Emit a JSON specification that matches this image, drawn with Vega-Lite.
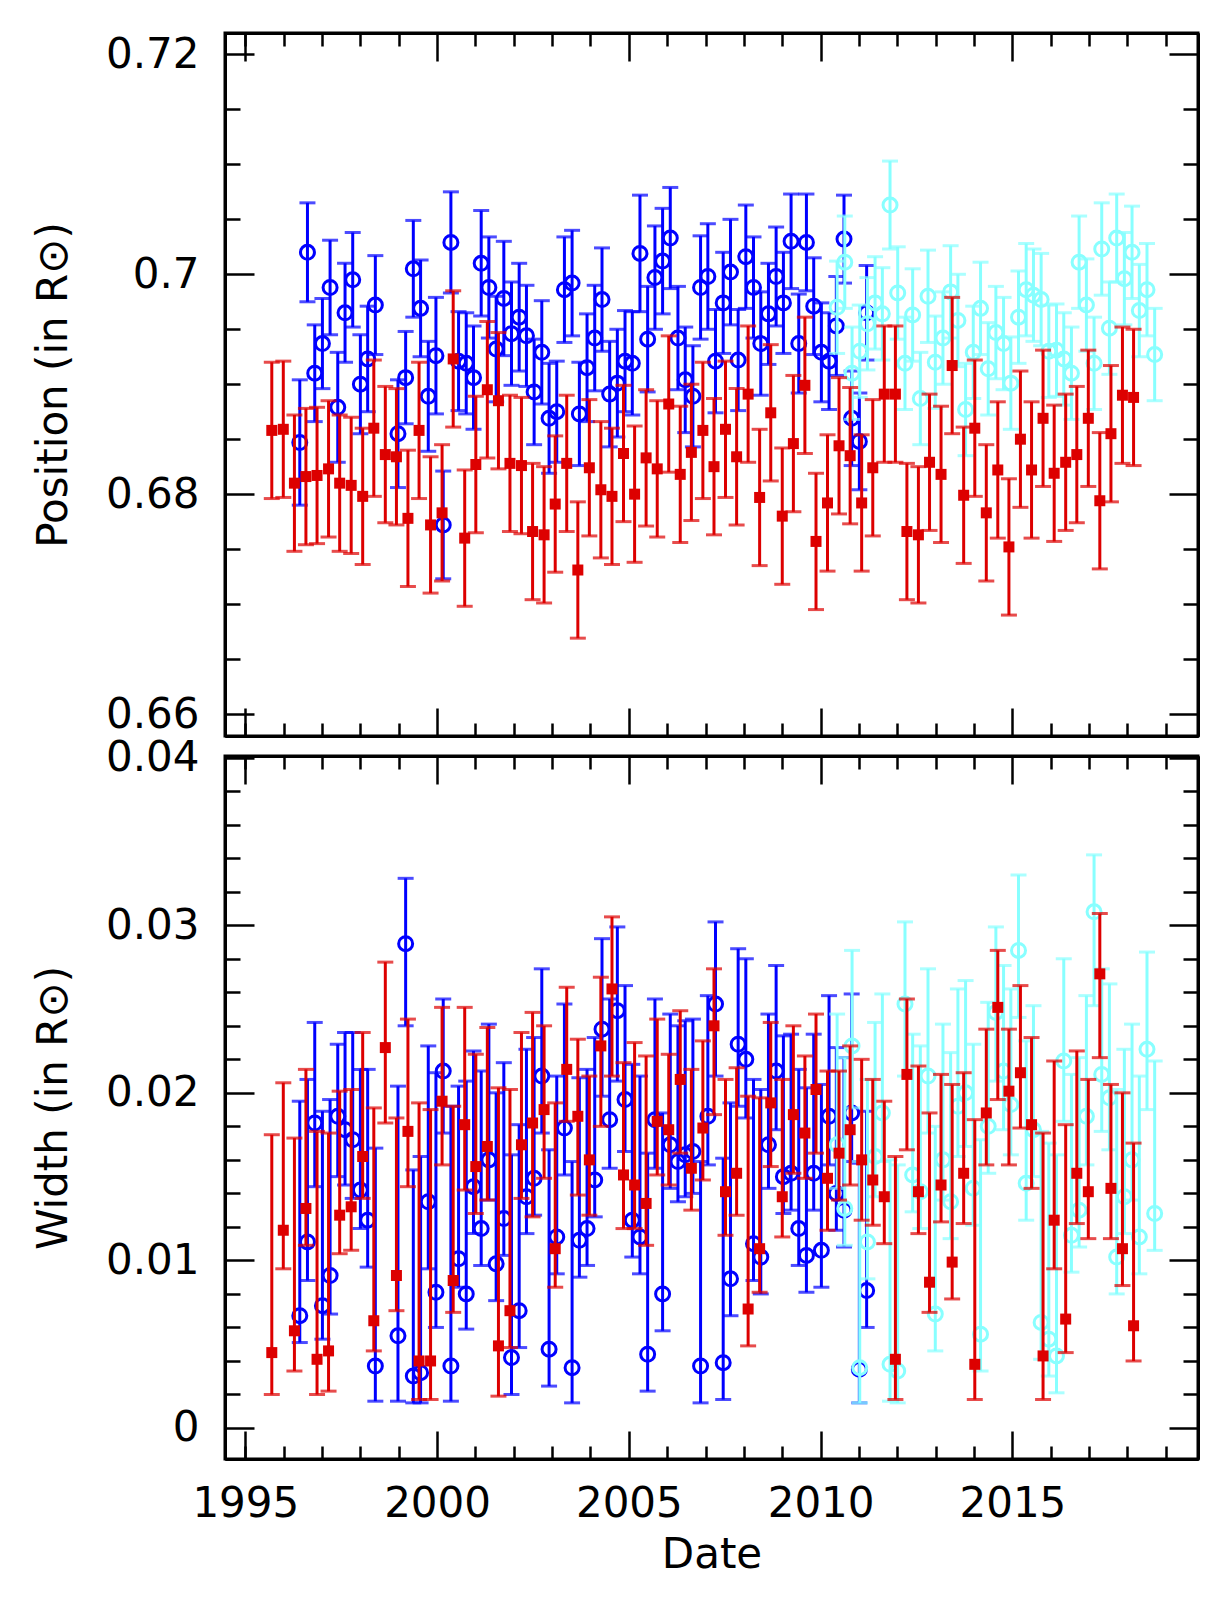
{
  "$schema": "https://vega.github.io/schema/vega-lite/v6.json",
  "padding": {"left": 30, "top": 30, "right": 26, "bottom": 10},
  "config": {
    "font": "DejaVu Sans",
    "view": {"stroke": "black", "strokeWidth": 3},
    "axis": {
      "labelFont": "DejaVu Sans", "titleFont": "DejaVu Sans",
      "labelFontSize": 42, "titleFontSize": 42, "titleFontWeight": "normal",
      "labelColor": "black", "titleColor": "black",
      "domainColor": "black", "domainWidth": 3,
      "tickColor": "black", "tickWidth": 2.5,
      "grid": false, "labelFlush": false, "labelOverlap": false
    }
  },
  "datasets": {
    "pos": [
      {"s":"MDI","d":1996.42,"v":0.6847,"e":0.0057},{"s":"MDI","d":1996.62,"v":0.7020,"e":0.0045},{"s":"MDI","d":1996.81,"v":0.6910,"e":0.0044},{"s":"MDI","d":1997.01,"v":0.6937,"e":0.0041},{"s":"MDI","d":1997.21,"v":0.6988,"e":0.0043},{"s":"MDI","d":1997.41,"v":0.6879,"e":0.0050},{"s":"MDI","d":1997.60,"v":0.6965,"e":0.0045},{"s":"MDI","d":1997.80,"v":0.6995,"e":0.0043},{"s":"MDI","d":1998.00,"v":0.6900,"e":0.0045},{"s":"MDI","d":1998.19,"v":0.6923,"e":0.0048},{"s":"MDI","d":1998.39,"v":0.6972,"e":0.0045},
      {"s":"MDI","d":1998.98,"v":0.6855,"e":0.0049},{"s":"MDI","d":1999.18,"v":0.6906,"e":0.0042},{"s":"MDI","d":1999.38,"v":0.7005,"e":0.0044},{"s":"MDI","d":1999.57,"v":0.6969,"e":0.0044},{"s":"MDI","d":1999.77,"v":0.6889,"e":0.0050},{"s":"MDI","d":1999.97,"v":0.6926,"e":0.0053},{"s":"MDI","d":2000.16,"v":0.6772,"e":0.0049},{"s":"MDI","d":2000.36,"v":0.7029,"e":0.0046},{"s":"MDI","d":2000.56,"v":0.6921,"e":0.0045},{"s":"MDI","d":2000.76,"v":0.6919,"e":0.0046},{"s":"MDI","d":2000.95,"v":0.6906,"e":0.0047},{"s":"MDI","d":2001.15,"v":0.7010,"e":0.0048},{"s":"MDI","d":2001.35,"v":0.6988,"e":0.0046},{"s":"MDI","d":2001.54,"v":0.6932,"e":0.0048},{"s":"MDI","d":2001.74,"v":0.6978,"e":0.0052},{"s":"MDI","d":2001.94,"v":0.6946,"e":0.0047},{"s":"MDI","d":2002.14,"v":0.6961,"e":0.0049},{"s":"MDI","d":2002.33,"v":0.6944,"e":0.0046},{"s":"MDI","d":2002.53,"v":0.6893,"e":0.0048},{"s":"MDI","d":2002.73,"v":0.6929,"e":0.0047},{"s":"MDI","d":2002.92,"v":0.6869,"e":0.0050},{"s":"MDI","d":2003.12,"v":0.6875,"e":0.0046},{"s":"MDI","d":2003.32,"v":0.6986,"e":0.0048},{"s":"MDI","d":2003.52,"v":0.6992,"e":0.0048},{"s":"MDI","d":2003.71,"v":0.6873,"e":0.0047},{"s":"MDI","d":2003.91,"v":0.6915,"e":0.0049},{"s":"MDI","d":2004.11,"v":0.6942,"e":0.0048},{"s":"MDI","d":2004.30,"v":0.6977,"e":0.0047},{"s":"MDI","d":2004.50,"v":0.6891,"e":0.0048},{"s":"MDI","d":2004.70,"v":0.6901,"e":0.0049},{"s":"MDI","d":2004.90,"v":0.6921,"e":0.0046},{"s":"MDI","d":2005.09,"v":0.6919,"e":0.0047},{"s":"MDI","d":2005.29,"v":0.7019,"e":0.0053},{"s":"MDI","d":2005.49,"v":0.6941,"e":0.0048},{"s":"MDI","d":2005.68,"v":0.6997,"e":0.0047},{"s":"MDI","d":2005.88,"v":0.7012,"e":0.0048},{"s":"MDI","d":2006.08,"v":0.7033,"e":0.0046},{"s":"MDI","d":2006.28,"v":0.6942,"e":0.0047},{"s":"MDI","d":2006.47,"v":0.6904,"e":0.0048},{"s":"MDI","d":2006.67,"v":0.6889,"e":0.0046},{"s":"MDI","d":2006.87,"v":0.6988,"e":0.0047},{"s":"MDI","d":2007.06,"v":0.6998,"e":0.0048},{"s":"MDI","d":2007.26,"v":0.6921,"e":0.0047},{"s":"MDI","d":2007.46,"v":0.6974,"e":0.0046},{"s":"MDI","d":2007.65,"v":0.7002,"e":0.0048},{"s":"MDI","d":2007.85,"v":0.6922,"e":0.0046},{"s":"MDI","d":2008.05,"v":0.7016,"e":0.0047},{"s":"MDI","d":2008.25,"v":0.6988,"e":0.0046},{"s":"MDI","d":2008.44,"v":0.6937,"e":0.0047},{"s":"MDI","d":2008.64,"v":0.6964,"e":0.0046},{"s":"MDI","d":2008.84,"v":0.6998,"e":0.0045},{"s":"MDI","d":2009.03,"v":0.6974,"e":0.0046},{"s":"MDI","d":2009.23,"v":0.7030,"e":0.0043},{"s":"MDI","d":2009.43,"v":0.6937,"e":0.0045},{"s":"MDI","d":2009.63,"v":0.7029,"e":0.0044},{"s":"MDI","d":2009.82,"v":0.6971,"e":0.0044},{"s":"MDI","d":2010.02,"v":0.6929,"e":0.0045},{"s":"MDI","d":2010.22,"v":0.6921,"e":0.0044},{"s":"MDI","d":2010.41,"v":0.6953,"e":0.0045},{"s":"MDI","d":2010.61,"v":0.7032,"e":0.0040},{"s":"MDI","d":2010.81,"v":0.6869,"e":0.0043},{"s":"MDI","d":2011.01,"v":0.6848,"e":0.0044},{"s":"MDI","d":2011.20,"v":0.6965,"e":0.0043},
      {"s":"HMI","d":2010.43,"v":0.6970,"e":0.0042},{"s":"HMI","d":2010.63,"v":0.7011,"e":0.0042},{"s":"HMI","d":2010.82,"v":0.6910,"e":0.0042},{"s":"HMI","d":2011.02,"v":0.6930,"e":0.0042},{"s":"HMI","d":2011.22,"v":0.6955,"e":0.0042},{"s":"HMI","d":2011.42,"v":0.6974,"e":0.0042},{"s":"HMI","d":2011.61,"v":0.6964,"e":0.0042},{"s":"HMI","d":2011.81,"v":0.7063,"e":0.0040},{"s":"HMI","d":2012.01,"v":0.6983,"e":0.0042},{"s":"HMI","d":2012.20,"v":0.6919,"e":0.0042},{"s":"HMI","d":2012.40,"v":0.6963,"e":0.0042},{"s":"HMI","d":2012.60,"v":0.6887,"e":0.0042},{"s":"HMI","d":2012.80,"v":0.6980,"e":0.0042},{"s":"HMI","d":2012.99,"v":0.6920,"e":0.0042},{"s":"HMI","d":2013.19,"v":0.6942,"e":0.0042},{"s":"HMI","d":2013.39,"v":0.6984,"e":0.0042},{"s":"HMI","d":2013.58,"v":0.6958,"e":0.0042},{"s":"HMI","d":2013.78,"v":0.6877,"e":0.0042},{"s":"HMI","d":2013.98,"v":0.6929,"e":0.0042},{"s":"HMI","d":2014.17,"v":0.6969,"e":0.0042},{"s":"HMI","d":2014.37,"v":0.6914,"e":0.0042},{"s":"HMI","d":2014.57,"v":0.6947,"e":0.0042},{"s":"HMI","d":2014.77,"v":0.6937,"e":0.0042},{"s":"HMI","d":2014.96,"v":0.6901,"e":0.0042},{"s":"HMI","d":2015.16,"v":0.6961,"e":0.0042},{"s":"HMI","d":2015.36,"v":0.6986,"e":0.0042},{"s":"HMI","d":2015.55,"v":0.6981,"e":0.0042},{"s":"HMI","d":2015.75,"v":0.6977,"e":0.0042},{"s":"HMI","d":2015.95,"v":0.6930,"e":0.0042},{"s":"HMI","d":2016.15,"v":0.6931,"e":0.0042},{"s":"HMI","d":2016.34,"v":0.6923,"e":0.0042},{"s":"HMI","d":2016.54,"v":0.6910,"e":0.0042},{"s":"HMI","d":2016.74,"v":0.7011,"e":0.0042},{"s":"HMI","d":2016.93,"v":0.6972,"e":0.0042},{"s":"HMI","d":2017.13,"v":0.6919,"e":0.0042},{"s":"HMI","d":2017.33,"v":0.7023,"e":0.0042},{"s":"HMI","d":2017.53,"v":0.6951,"e":0.0042},{"s":"HMI","d":2017.72,"v":0.7033,"e":0.0040},{"s":"HMI","d":2017.92,"v":0.6996,"e":0.0042},{"s":"HMI","d":2018.12,"v":0.7020,"e":0.0042},{"s":"HMI","d":2018.31,"v":0.6967,"e":0.0042},{"s":"HMI","d":2018.51,"v":0.6986,"e":0.0042},{"s":"HMI","d":2018.71,"v":0.6927,"e":0.0042},
      {"s":"GONG","d":1995.69,"v":0.6858,"e":0.0062},{"s":"GONG","d":1995.99,"v":0.6859,"e":0.0062},{"s":"GONG","d":1996.28,"v":0.6810,"e":0.0062},{"s":"GONG","d":1996.58,"v":0.6816,"e":0.0062},{"s":"GONG","d":1996.87,"v":0.6817,"e":0.0062},{"s":"GONG","d":1997.17,"v":0.6823,"e":0.0062},{"s":"GONG","d":1997.46,"v":0.6810,"e":0.0062},{"s":"GONG","d":1997.76,"v":0.6808,"e":0.0062},{"s":"GONG","d":1998.06,"v":0.6798,"e":0.0062},{"s":"GONG","d":1998.35,"v":0.6860,"e":0.0062},{"s":"GONG","d":1998.65,"v":0.6836,"e":0.0062},{"s":"GONG","d":1998.94,"v":0.6834,"e":0.0062},{"s":"GONG","d":1999.24,"v":0.6778,"e":0.0062},{"s":"GONG","d":1999.53,"v":0.6858,"e":0.0062},{"s":"GONG","d":1999.83,"v":0.6772,"e":0.0062},{"s":"GONG","d":2000.13,"v":0.6783,"e":0.0062},{"s":"GONG","d":2000.42,"v":0.6923,"e":0.0062},{"s":"GONG","d":2000.72,"v":0.6760,"e":0.0062},{"s":"GONG","d":2001.01,"v":0.6827,"e":0.0062},{"s":"GONG","d":2001.31,"v":0.6895,"e":0.0062},{"s":"GONG","d":2001.60,"v":0.6885,"e":0.0062},{"s":"GONG","d":2001.90,"v":0.6828,"e":0.0062},{"s":"GONG","d":2002.20,"v":0.6826,"e":0.0062},{"s":"GONG","d":2002.49,"v":0.6766,"e":0.0062},{"s":"GONG","d":2002.79,"v":0.6763,"e":0.0062},{"s":"GONG","d":2003.08,"v":0.6791,"e":0.0062},{"s":"GONG","d":2003.38,"v":0.6828,"e":0.0062},{"s":"GONG","d":2003.67,"v":0.6731,"e":0.0062},{"s":"GONG","d":2003.97,"v":0.6824,"e":0.0062},{"s":"GONG","d":2004.27,"v":0.6804,"e":0.0062},{"s":"GONG","d":2004.56,"v":0.6798,"e":0.0062},{"s":"GONG","d":2004.86,"v":0.6837,"e":0.0062},{"s":"GONG","d":2005.15,"v":0.6800,"e":0.0062},{"s":"GONG","d":2005.45,"v":0.6833,"e":0.0062},{"s":"GONG","d":2005.74,"v":0.6823,"e":0.0062},{"s":"GONG","d":2006.04,"v":0.6882,"e":0.0062},{"s":"GONG","d":2006.34,"v":0.6818,"e":0.0062},{"s":"GONG","d":2006.63,"v":0.6838,"e":0.0062},{"s":"GONG","d":2006.93,"v":0.6858,"e":0.0062},{"s":"GONG","d":2007.22,"v":0.6825,"e":0.0062},{"s":"GONG","d":2007.52,"v":0.6859,"e":0.0062},{"s":"GONG","d":2007.81,"v":0.6834,"e":0.0062},{"s":"GONG","d":2008.11,"v":0.6891,"e":0.0062},{"s":"GONG","d":2008.41,"v":0.6797,"e":0.0062},{"s":"GONG","d":2008.70,"v":0.6874,"e":0.0062},{"s":"GONG","d":2009.00,"v":0.6780,"e":0.0062},{"s":"GONG","d":2009.29,"v":0.6846,"e":0.0062},{"s":"GONG","d":2009.59,"v":0.6899,"e":0.0062},{"s":"GONG","d":2009.88,"v":0.6757,"e":0.0062},{"s":"GONG","d":2010.18,"v":0.6792,"e":0.0062},{"s":"GONG","d":2010.48,"v":0.6844,"e":0.0062},{"s":"GONG","d":2010.77,"v":0.6835,"e":0.0062},{"s":"GONG","d":2011.07,"v":0.6792,"e":0.0062},{"s":"GONG","d":2011.36,"v":0.6824,"e":0.0062},{"s":"GONG","d":2011.66,"v":0.6891,"e":0.0062},{"s":"GONG","d":2011.95,"v":0.6891,"e":0.0062},{"s":"GONG","d":2012.25,"v":0.6766,"e":0.0062},{"s":"GONG","d":2012.55,"v":0.6763,"e":0.0062},{"s":"GONG","d":2012.84,"v":0.6829,"e":0.0062},{"s":"GONG","d":2013.14,"v":0.6818,"e":0.0062},{"s":"GONG","d":2013.43,"v":0.6917,"e":0.0062},{"s":"GONG","d":2013.73,"v":0.6799,"e":0.0062},{"s":"GONG","d":2014.02,"v":0.6860,"e":0.0062},{"s":"GONG","d":2014.32,"v":0.6783,"e":0.0062},{"s":"GONG","d":2014.62,"v":0.6822,"e":0.0062},{"s":"GONG","d":2014.91,"v":0.6752,"e":0.0062},{"s":"GONG","d":2015.21,"v":0.6850,"e":0.0062},{"s":"GONG","d":2015.50,"v":0.6822,"e":0.0062},{"s":"GONG","d":2015.80,"v":0.6869,"e":0.0062},{"s":"GONG","d":2016.09,"v":0.6819,"e":0.0062},{"s":"GONG","d":2016.39,"v":0.6829,"e":0.0062},{"s":"GONG","d":2016.68,"v":0.6836,"e":0.0062},{"s":"GONG","d":2016.98,"v":0.6869,"e":0.0062},{"s":"GONG","d":2017.28,"v":0.6794,"e":0.0062},{"s":"GONG","d":2017.57,"v":0.6855,"e":0.0062},{"s":"GONG","d":2017.87,"v":0.6890,"e":0.0062},{"s":"GONG","d":2018.16,"v":0.6888,"e":0.0062}
    ],
    "wid": [
      {"s":"MDI","d":1996.42,"v":0.0067,"lo":0.0051,"hi":0.0195},{"s":"MDI","d":1996.62,"v":0.0111,"lo":0.0088,"hi":0.0208},{"s":"MDI","d":1996.81,"v":0.0182,"lo":0.0144,"hi":0.0242},{"s":"MDI","d":1997.01,"v":0.0073,"lo":0.0053,"hi":0.0189},{"s":"MDI","d":1997.21,"v":0.0091,"lo":0.0068,"hi":0.0196},{"s":"MDI","d":1997.41,"v":0.0186,"lo":0.0150,"hi":0.0229},{"s":"MDI","d":1997.60,"v":0.0178,"lo":0.0145,"hi":0.0236},{"s":"MDI","d":1997.80,"v":0.0172,"lo":0.0137,"hi":0.0236},{"s":"MDI","d":1998.00,"v":0.0142,"lo":0.0119,"hi":0.0214},{"s":"MDI","d":1998.19,"v":0.0124,"lo":0.0096,"hi":0.0214},{"s":"MDI","d":1998.39,"v":0.0037,"lo":0.0016,"hi":0.0167},
      {"s":"MDI","d":1998.98,"v":0.0055,"lo":0.0016,"hi":0.0204},{"s":"MDI","d":1999.18,"v":0.0289,"lo":0.0240,"hi":0.0328},{"s":"MDI","d":1999.38,"v":0.0031,"lo":0.0015,"hi":0.0154},{"s":"MDI","d":1999.57,"v":0.0033,"lo":0.0015,"hi":0.0162},{"s":"MDI","d":1999.77,"v":0.0135,"lo":0.0095,"hi":0.0228},{"s":"MDI","d":1999.97,"v":0.0081,"lo":0.0060,"hi":0.0212},{"s":"MDI","d":2000.16,"v":0.0213,"lo":0.0176,"hi":0.0256},{"s":"MDI","d":2000.36,"v":0.0037,"lo":0.0016,"hi":0.0192},{"s":"MDI","d":2000.56,"v":0.0101,"lo":0.0084,"hi":0.0204},{"s":"MDI","d":2000.76,"v":0.0080,"lo":0.0059,"hi":0.0207},{"s":"MDI","d":2000.95,"v":0.0144,"lo":0.0116,"hi":0.0225},{"s":"MDI","d":2001.15,"v":0.0119,"lo":0.0097,"hi":0.0213},{"s":"MDI","d":2001.35,"v":0.0160,"lo":0.0136,"hi":0.0241},{"s":"MDI","d":2001.54,"v":0.0098,"lo":0.0076,"hi":0.0200},{"s":"MDI","d":2001.74,"v":0.0125,"lo":0.0103,"hi":0.0218},{"s":"MDI","d":2001.94,"v":0.0042,"lo":0.0020,"hi":0.0163},{"s":"MDI","d":2002.14,"v":0.0070,"lo":0.0048,"hi":0.0181},{"s":"MDI","d":2002.33,"v":0.0138,"lo":0.0116,"hi":0.0226},{"s":"MDI","d":2002.53,"v":0.0149,"lo":0.0127,"hi":0.0233},{"s":"MDI","d":2002.73,"v":0.0210,"lo":0.0176,"hi":0.0274},{"s":"MDI","d":2002.92,"v":0.0047,"lo":0.0025,"hi":0.0166},{"s":"MDI","d":2003.12,"v":0.0114,"lo":0.0092,"hi":0.0210},{"s":"MDI","d":2003.32,"v":0.0179,"lo":0.0151,"hi":0.0253},{"s":"MDI","d":2003.52,"v":0.0036,"lo":0.0015,"hi":0.0159},{"s":"MDI","d":2003.71,"v":0.0112,"lo":0.0090,"hi":0.0209},{"s":"MDI","d":2003.91,"v":0.0119,"lo":0.0097,"hi":0.0214},{"s":"MDI","d":2004.11,"v":0.0148,"lo":0.0126,"hi":0.0233},{"s":"MDI","d":2004.30,"v":0.0238,"lo":0.0198,"hi":0.0292},{"s":"MDI","d":2004.50,"v":0.0184,"lo":0.0155,"hi":0.0256},{"s":"MDI","d":2004.70,"v":0.0249,"lo":0.0207,"hi":0.0299},{"s":"MDI","d":2004.90,"v":0.0196,"lo":0.0165,"hi":0.0264},{"s":"MDI","d":2005.09,"v":0.0124,"lo":0.0102,"hi":0.0217},{"s":"MDI","d":2005.29,"v":0.0114,"lo":0.0092,"hi":0.0210},{"s":"MDI","d":2005.49,"v":0.0044,"lo":0.0022,"hi":0.0164},{"s":"MDI","d":2005.68,"v":0.0184,"lo":0.0155,"hi":0.0256},{"s":"MDI","d":2005.88,"v":0.0080,"lo":0.0058,"hi":0.0188},{"s":"MDI","d":2006.08,"v":0.0169,"lo":0.0143,"hi":0.0247},{"s":"MDI","d":2006.28,"v":0.0159,"lo":0.0135,"hi":0.0240},{"s":"MDI","d":2006.47,"v":0.0163,"lo":0.0138,"hi":0.0243},{"s":"MDI","d":2006.67,"v":0.0165,"lo":0.0140,"hi":0.0244},{"s":"MDI","d":2006.87,"v":0.0037,"lo":0.0015,"hi":0.0159},{"s":"MDI","d":2007.06,"v":0.0186,"lo":0.0157,"hi":0.0258},{"s":"MDI","d":2007.26,"v":0.0253,"lo":0.0210,"hi":0.0302},{"s":"MDI","d":2007.46,"v":0.0039,"lo":0.0017,"hi":0.0161},{"s":"MDI","d":2007.65,"v":0.0089,"lo":0.0067,"hi":0.0194},{"s":"MDI","d":2007.85,"v":0.0229,"lo":0.0192,"hi":0.0286},{"s":"MDI","d":2008.05,"v":0.0220,"lo":0.0185,"hi":0.0280},{"s":"MDI","d":2008.25,"v":0.0110,"lo":0.0088,"hi":0.0208},{"s":"MDI","d":2008.44,"v":0.0102,"lo":0.0080,"hi":0.0202},{"s":"MDI","d":2008.64,"v":0.0169,"lo":0.0143,"hi":0.0247},{"s":"MDI","d":2008.84,"v":0.0213,"lo":0.0178,"hi":0.0276},{"s":"MDI","d":2009.03,"v":0.0150,"lo":0.0128,"hi":0.0234},{"s":"MDI","d":2009.23,"v":0.0152,"lo":0.0130,"hi":0.0235},{"s":"MDI","d":2009.43,"v":0.0119,"lo":0.0097,"hi":0.0214},{"s":"MDI","d":2009.63,"v":0.0103,"lo":0.0081,"hi":0.0203},{"s":"MDI","d":2009.82,"v":0.0152,"lo":0.0130,"hi":0.0235},{"s":"MDI","d":2010.02,"v":0.0106,"lo":0.0084,"hi":0.0205},{"s":"MDI","d":2010.22,"v":0.0186,"lo":0.0157,"hi":0.0258},{"s":"MDI","d":2010.41,"v":0.0140,"lo":0.0118,"hi":0.0227},{"s":"MDI","d":2010.61,"v":0.0130,"lo":0.0108,"hi":0.0221},{"s":"MDI","d":2010.81,"v":0.0188,"lo":0.0159,"hi":0.0259},{"s":"MDI","d":2011.01,"v":0.0035,"lo":0.0015,"hi":0.0158},{"s":"MDI","d":2011.20,"v":0.0082,"lo":0.0060,"hi":0.0189},
      {"s":"HMI","d":2010.43,"v":0.0169,"lo":0.0143,"hi":0.0247},{"s":"HMI","d":2010.63,"v":0.0131,"lo":0.0109,"hi":0.0221},{"s":"HMI","d":2010.82,"v":0.0228,"lo":0.0191,"hi":0.0285},{"s":"HMI","d":2011.02,"v":0.0036,"lo":0.0015,"hi":0.0159},{"s":"HMI","d":2011.22,"v":0.0111,"lo":0.0089,"hi":0.0208},{"s":"HMI","d":2011.42,"v":0.0162,"lo":0.0138,"hi":0.0242},{"s":"HMI","d":2011.61,"v":0.0188,"lo":0.0159,"hi":0.0259},{"s":"HMI","d":2011.81,"v":0.0038,"lo":0.0016,"hi":0.0160},{"s":"HMI","d":2012.01,"v":0.0034,"lo":0.0015,"hi":0.0157},{"s":"HMI","d":2012.20,"v":0.0253,"lo":0.0210,"hi":0.0302},{"s":"HMI","d":2012.40,"v":0.0151,"lo":0.0129,"hi":0.0235},{"s":"HMI","d":2012.60,"v":0.0141,"lo":0.0119,"hi":0.0228},{"s":"HMI","d":2012.80,"v":0.0210,"lo":0.0176,"hi":0.0274},{"s":"HMI","d":2012.99,"v":0.0068,"lo":0.0046,"hi":0.0180},{"s":"HMI","d":2013.19,"v":0.0160,"lo":0.0136,"hi":0.0241},{"s":"HMI","d":2013.39,"v":0.0135,"lo":0.0113,"hi":0.0224},{"s":"HMI","d":2013.58,"v":0.0192,"lo":0.0162,"hi":0.0262},{"s":"HMI","d":2013.78,"v":0.0200,"lo":0.0168,"hi":0.0267},{"s":"HMI","d":2013.98,"v":0.0143,"lo":0.0121,"hi":0.0229},{"s":"HMI","d":2014.17,"v":0.0056,"lo":0.0034,"hi":0.0172},{"s":"HMI","d":2014.37,"v":0.0180,"lo":0.0152,"hi":0.0254},{"s":"HMI","d":2014.57,"v":0.0248,"lo":0.0207,"hi":0.0299},{"s":"HMI","d":2014.77,"v":0.0213,"lo":0.0178,"hi":0.0276},{"s":"HMI","d":2014.96,"v":0.0193,"lo":0.0163,"hi":0.0262},{"s":"HMI","d":2015.16,"v":0.0285,"lo":0.0245,"hi":0.0330},{"s":"HMI","d":2015.36,"v":0.0146,"lo":0.0124,"hi":0.0231},{"s":"HMI","d":2015.55,"v":0.0178,"lo":0.0150,"hi":0.0252},{"s":"HMI","d":2015.75,"v":0.0063,"lo":0.0041,"hi":0.0177},{"s":"HMI","d":2015.95,"v":0.0053,"lo":0.0031,"hi":0.0170},{"s":"HMI","d":2016.15,"v":0.0043,"lo":0.0021,"hi":0.0163},{"s":"HMI","d":2016.34,"v":0.0219,"lo":0.0183,"hi":0.0280},{"s":"HMI","d":2016.54,"v":0.0115,"lo":0.0093,"hi":0.0211},{"s":"HMI","d":2016.74,"v":0.0130,"lo":0.0108,"hi":0.0221},{"s":"HMI","d":2016.93,"v":0.0186,"lo":0.0157,"hi":0.0258},{"s":"HMI","d":2017.13,"v":0.0308,"lo":0.0252,"hi":0.0342},{"s":"HMI","d":2017.33,"v":0.0211,"lo":0.0177,"hi":0.0274},{"s":"HMI","d":2017.53,"v":0.0197,"lo":0.0166,"hi":0.0265},{"s":"HMI","d":2017.72,"v":0.0102,"lo":0.0080,"hi":0.0202},{"s":"HMI","d":2017.92,"v":0.0138,"lo":0.0116,"hi":0.0226},{"s":"HMI","d":2018.12,"v":0.0160,"lo":0.0136,"hi":0.0241},{"s":"HMI","d":2018.31,"v":0.0114,"lo":0.0092,"hi":0.0210},{"s":"HMI","d":2018.51,"v":0.0226,"lo":0.0190,"hi":0.0284},{"s":"HMI","d":2018.71,"v":0.0128,"lo":0.0106,"hi":0.0219},
      {"s":"GONG","d":1995.69,"v":0.0045,"lo":0.0020,"hi":0.0175},{"s":"GONG","d":1995.99,"v":0.0118,"lo":0.0095,"hi":0.0206},{"s":"GONG","d":1996.28,"v":0.0058,"lo":0.0034,"hi":0.0173},{"s":"GONG","d":1996.58,"v":0.0131,"lo":0.0109,"hi":0.0214},{"s":"GONG","d":1996.87,"v":0.0041,"lo":0.0020,"hi":0.0177},{"s":"GONG","d":1997.17,"v":0.0046,"lo":0.0022,"hi":0.0176},{"s":"GONG","d":1997.46,"v":0.0127,"lo":0.0104,"hi":0.0201},{"s":"GONG","d":1997.76,"v":0.0132,"lo":0.0106,"hi":0.0202},{"s":"GONG","d":1998.06,"v":0.0162,"lo":0.0137,"hi":0.0236},{"s":"GONG","d":1998.35,"v":0.0064,"lo":0.0046,"hi":0.0191},{"s":"GONG","d":1998.65,"v":0.0227,"lo":0.0182,"hi":0.0278},{"s":"GONG","d":1998.94,"v":0.0091,"lo":0.0070,"hi":0.0185},{"s":"GONG","d":1999.24,"v":0.0177,"lo":0.0144,"hi":0.0244},{"s":"GONG","d":1999.53,"v":0.0040,"lo":0.0017,"hi":0.0194},{"s":"GONG","d":1999.83,"v":0.0040,"lo":0.0017,"hi":0.0190},{"s":"GONG","d":2000.13,"v":0.0195,"lo":0.0157,"hi":0.0251},{"s":"GONG","d":2000.42,"v":0.0088,"lo":0.0069,"hi":0.0192},{"s":"GONG","d":2000.72,"v":0.0181,"lo":0.0142,"hi":0.0251},{"s":"GONG","d":2001.01,"v":0.0156,"lo":0.0128,"hi":0.0223},{"s":"GONG","d":2001.31,"v":0.0168,"lo":0.0136,"hi":0.0239},{"s":"GONG","d":2001.60,"v":0.0049,"lo":0.0019,"hi":0.0203},{"s":"GONG","d":2001.90,"v":0.0070,"lo":0.0048,"hi":0.0202},{"s":"GONG","d":2002.20,"v":0.0169,"lo":0.0137,"hi":0.0236},{"s":"GONG","d":2002.49,"v":0.0182,"lo":0.0126,"hi":0.0248},{"s":"GONG","d":2002.79,"v":0.0190,"lo":0.0149,"hi":0.0240},{"s":"GONG","d":2003.08,"v":0.0107,"lo":0.0084,"hi":0.0194},{"s":"GONG","d":2003.38,"v":0.0214,"lo":0.0183,"hi":0.0263},{"s":"GONG","d":2003.67,"v":0.0186,"lo":0.0139,"hi":0.0232},{"s":"GONG","d":2003.97,"v":0.0160,"lo":0.0127,"hi":0.0210},{"s":"GONG","d":2004.27,"v":0.0228,"lo":0.0180,"hi":0.0269},{"s":"GONG","d":2004.56,"v":0.0262,"lo":0.0210,"hi":0.0305},{"s":"GONG","d":2004.86,"v":0.0151,"lo":0.0119,"hi":0.0218},{"s":"GONG","d":2005.15,"v":0.0145,"lo":0.0119,"hi":0.0230},{"s":"GONG","d":2005.45,"v":0.0134,"lo":0.0109,"hi":0.0222},{"s":"GONG","d":2005.74,"v":0.0183,"lo":0.0151,"hi":0.0244},{"s":"GONG","d":2006.04,"v":0.0178,"lo":0.0145,"hi":0.0223},{"s":"GONG","d":2006.34,"v":0.0208,"lo":0.0164,"hi":0.0249},{"s":"GONG","d":2006.63,"v":0.0155,"lo":0.0130,"hi":0.0214},{"s":"GONG","d":2006.93,"v":0.0179,"lo":0.0148,"hi":0.0231},{"s":"GONG","d":2007.22,"v":0.0240,"lo":0.0187,"hi":0.0274},{"s":"GONG","d":2007.52,"v":0.0141,"lo":0.0115,"hi":0.0208},{"s":"GONG","d":2007.81,"v":0.0152,"lo":0.0127,"hi":0.0215},{"s":"GONG","d":2008.11,"v":0.0071,"lo":0.0049,"hi":0.0198},{"s":"GONG","d":2008.41,"v":0.0107,"lo":0.0081,"hi":0.0197},{"s":"GONG","d":2008.70,"v":0.0194,"lo":0.0156,"hi":0.0242},{"s":"GONG","d":2009.00,"v":0.0138,"lo":0.0114,"hi":0.0208},{"s":"GONG","d":2009.29,"v":0.0187,"lo":0.0152,"hi":0.0240},{"s":"GONG","d":2009.59,"v":0.0176,"lo":0.0149,"hi":0.0222},{"s":"GONG","d":2009.88,"v":0.0202,"lo":0.0164,"hi":0.0247},{"s":"GONG","d":2010.18,"v":0.0149,"lo":0.0118,"hi":0.0213},{"s":"GONG","d":2010.48,"v":0.0164,"lo":0.0136,"hi":0.0213},{"s":"GONG","d":2010.77,"v":0.0178,"lo":0.0145,"hi":0.0228},{"s":"GONG","d":2011.07,"v":0.0160,"lo":0.0124,"hi":0.0220},{"s":"GONG","d":2011.36,"v":0.0148,"lo":0.0121,"hi":0.0208},{"s":"GONG","d":2011.66,"v":0.0138,"lo":0.0110,"hi":0.0195},{"s":"GONG","d":2011.95,"v":0.0041,"lo":0.0017,"hi":0.0162},{"s":"GONG","d":2012.25,"v":0.0211,"lo":0.0166,"hi":0.0256},{"s":"GONG","d":2012.55,"v":0.0141,"lo":0.0116,"hi":0.0216},{"s":"GONG","d":2012.84,"v":0.0087,"lo":0.0069,"hi":0.0188},{"s":"GONG","d":2013.14,"v":0.0145,"lo":0.0123,"hi":0.0211},{"s":"GONG","d":2013.43,"v":0.0099,"lo":0.0077,"hi":0.0205},{"s":"GONG","d":2013.73,"v":0.0152,"lo":0.0122,"hi":0.0212},{"s":"GONG","d":2014.02,"v":0.0038,"lo":0.0017,"hi":0.0184},{"s":"GONG","d":2014.32,"v":0.0188,"lo":0.0157,"hi":0.0238},{"s":"GONG","d":2014.62,"v":0.0251,"lo":0.0196,"hi":0.0285},{"s":"GONG","d":2014.91,"v":0.0201,"lo":0.0157,"hi":0.0238},{"s":"GONG","d":2015.21,"v":0.0212,"lo":0.0179,"hi":0.0264},{"s":"GONG","d":2015.50,"v":0.0181,"lo":0.0143,"hi":0.0233},{"s":"GONG","d":2015.80,"v":0.0043,"lo":0.0017,"hi":0.0176},{"s":"GONG","d":2016.09,"v":0.0124,"lo":0.0095,"hi":0.0219},{"s":"GONG","d":2016.39,"v":0.0065,"lo":0.0045,"hi":0.0181},{"s":"GONG","d":2016.68,"v":0.0152,"lo":0.0122,"hi":0.0225},{"s":"GONG","d":2016.98,"v":0.0141,"lo":0.0113,"hi":0.0208},{"s":"GONG","d":2017.28,"v":0.0271,"lo":0.0221,"hi":0.0307},{"s":"GONG","d":2017.57,"v":0.0143,"lo":0.0113,"hi":0.0205},{"s":"GONG","d":2017.87,"v":0.0107,"lo":0.0085,"hi":0.0200},{"s":"GONG","d":2018.16,"v":0.0061,"lo":0.0040,"hi":0.0170}
    ]
  },
  "bounds": "flush",
  "spacing": 20,
  "vconcat": [
    {
      "width": 973, "height": 703,
      "data": {"name": "pos"},
      "resolve": {"axis": {"x": "independent", "y": "independent"}},
      "layer": [
        {
          "transform": [{"filter": "datum.s === 'MDI'"}],
          "mark": {"type": "errorbar", "color": "#0000ff", "thickness": 3, "size": 16, "ticks": true},
          "encoding": {
            "x": {"field": "d", "type": "quantitative", "scale": {"domain": [1994.47, 2019.84], "nice": false, "zero": false},
                  "axis": {"orient": "bottom", "values": [1995,1996,1997,1998,1999,2001,2002,2003,2004,2006,2007,2008,2009,2011,2012,2013,2014,2016,2017,2018,2019], "tickSize": -13, "labels": false, "title": null}},
            "y": {"field": "v", "type": "quantitative", "scale": {"domain": [0.658, 0.72195], "nice": false, "zero": false},
                  "axis": {"orient": "left", "values": [0.665,0.67,0.675,0.685,0.69,0.695,0.705,0.71,0.715], "tickSize": -15, "labels": false, "title": null}},
            "yError": {"field": "e"}
          }
        },
        {
          "transform": [{"filter": "datum.s === 'MDI'"}],
          "mark": {"type": "point", "shape": "circle", "filled": false, "color": "#0000ff", "strokeWidth": 3, "size": 196, "opacity": 1},
          "encoding": {
            "x": {"field": "d", "type": "quantitative", "scale": {"domain": [1994.47, 2019.84], "nice": false, "zero": false},
                  "axis": {"orient": "bottom", "values": [1995,2000,2005,2010,2015], "tickSize": -28, "labels": false, "title": null}},
            "y": {"field": "v", "type": "quantitative", "scale": {"domain": [0.658, 0.72195], "nice": false, "zero": false},
                  "axis": {"orient": "left", "values": [0.66,0.68,0.7,0.72], "tickSize": -29,
                           "labelExpr": "toString(round(datum.value*100)/100)",
                           "labelPadding": 55, "title": "Position (in R\u2299)", "titlePadding": 30}}
          }
        },
        {
          "transform": [{"filter": "datum.s === 'HMI'"}],
          "mark": {"type": "errorbar", "color": "#88ffff", "thickness": 3, "size": 16, "ticks": true},
          "encoding": {
            "x": {"field": "d", "type": "quantitative", "scale": {"domain": [1994.47, 2019.84], "nice": false, "zero": false},
                  "axis": {"orient": "top", "values": [1995,1996,1997,1998,1999,2001,2002,2003,2004,2006,2007,2008,2009,2011,2012,2013,2014,2016,2017,2018,2019], "tickSize": -13, "labels": false, "title": null}},
            "y": {"field": "v", "type": "quantitative", "scale": {"domain": [0.658, 0.72195], "nice": false, "zero": false},
                  "axis": {"orient": "right", "values": [0.665,0.67,0.675,0.685,0.69,0.695,0.705,0.71,0.715], "tickSize": -15, "labels": false, "title": null}},
            "yError": {"field": "e"}
          }
        },
        {
          "transform": [{"filter": "datum.s === 'HMI'"}],
          "mark": {"type": "point", "shape": "circle", "filled": false, "color": "#88ffff", "strokeWidth": 3, "size": 196, "opacity": 1},
          "encoding": {
            "x": {"field": "d", "type": "quantitative", "scale": {"domain": [1994.47, 2019.84], "nice": false, "zero": false},
                  "axis": {"orient": "top", "values": [1995,2000,2005,2010,2015], "tickSize": -28, "labels": false, "title": null}},
            "y": {"field": "v", "type": "quantitative", "scale": {"domain": [0.658, 0.72195], "nice": false, "zero": false},
                  "axis": {"orient": "right", "values": [0.66,0.68,0.7,0.72], "tickSize": -29, "labels": false, "title": null}}
          }
        },
        {
          "transform": [{"filter": "datum.s === 'GONG'"}],
          "mark": {"type": "errorbar", "color": "#dd0000", "thickness": 3, "size": 16, "ticks": true},
          "encoding": {
            "x": {"field": "d", "type": "quantitative", "scale": {"domain": [1994.47, 2019.84], "nice": false, "zero": false}, "axis": null},
            "y": {"field": "v", "type": "quantitative", "scale": {"domain": [0.658, 0.72195], "nice": false, "zero": false}, "axis": null},
            "yError": {"field": "e"}
          }
        },
        {
          "transform": [{"filter": "datum.s === 'GONG'"}],
          "mark": {"type": "point", "shape": "square", "filled": true, "color": "#dd0000", "size": 121, "opacity": 1},
          "encoding": {
            "x": {"field": "d", "type": "quantitative", "scale": {"domain": [1994.47, 2019.84], "nice": false, "zero": false}, "axis": null},
            "y": {"field": "v", "type": "quantitative", "scale": {"domain": [0.658, 0.72195], "nice": false, "zero": false}, "axis": null}
          }
        }
      ]
    },
    {
      "width": 973, "height": 703,
      "data": {"name": "wid"},
      "resolve": {"axis": {"x": "independent", "y": "independent"}},
      "layer": [
        {
          "transform": [{"filter": "datum.s === 'MDI'"}],
          "mark": {"type": "errorbar", "color": "#0000ff", "thickness": 3, "size": 16, "ticks": true},
          "encoding": {
            "x": {"field": "d", "type": "quantitative", "scale": {"domain": [1994.47, 2019.84], "nice": false, "zero": false},
                  "axis": {"orient": "bottom", "values": [1995,1996,1997,1998,1999,2001,2002,2003,2004,2006,2007,2008,2009,2011,2012,2013,2014,2016,2017,2018,2019], "tickSize": -13, "labels": false, "title": null}},
            "y": {"field": "lo", "type": "quantitative", "scale": {"domain": [-0.00185, 0.0401], "nice": false, "zero": false},
                  "axis": {"orient": "left", "values": [0.002,0.004,0.006,0.008,0.012,0.014,0.016,0.018,0.022,0.024,0.026,0.028,0.032,0.034,0.036,0.038], "tickSize": -15, "labels": false, "title": null}},
            "y2": {"field": "hi"}
          }
        },
        {
          "transform": [{"filter": "datum.s === 'MDI'"}],
          "mark": {"type": "point", "shape": "circle", "filled": false, "color": "#0000ff", "strokeWidth": 3, "size": 196, "opacity": 1},
          "encoding": {
            "x": {"field": "d", "type": "quantitative", "scale": {"domain": [1994.47, 2019.84], "nice": false, "zero": false},
                  "axis": {"orient": "bottom", "values": [1995,2000,2005,2010,2015], "tickSize": -28,
                           "labelExpr": "toString(datum.value)",
                           "labelPadding": 52, "title": "Date", "titlePadding": 10}},
            "y": {"field": "v", "type": "quantitative", "scale": {"domain": [-0.00185, 0.0401], "nice": false, "zero": false},
                  "axis": {"orient": "left", "values": [0,0.01,0.02,0.03,0.04], "tickSize": -29,
                           "labelExpr": "toString(round(datum.value*100)/100)",
                           "labelPadding": 55, "title": "Width (in R\u2299)", "titlePadding": 30}}
          }
        },
        {
          "transform": [{"filter": "datum.s === 'HMI'"}],
          "mark": {"type": "errorbar", "color": "#88ffff", "thickness": 3, "size": 16, "ticks": true},
          "encoding": {
            "x": {"field": "d", "type": "quantitative", "scale": {"domain": [1994.47, 2019.84], "nice": false, "zero": false},
                  "axis": {"orient": "top", "values": [1995,1996,1997,1998,1999,2001,2002,2003,2004,2006,2007,2008,2009,2011,2012,2013,2014,2016,2017,2018,2019], "tickSize": -13, "labels": false, "title": null}},
            "y": {"field": "lo", "type": "quantitative", "scale": {"domain": [-0.00185, 0.0401], "nice": false, "zero": false},
                  "axis": {"orient": "right", "values": [0.002,0.004,0.006,0.008,0.012,0.014,0.016,0.018,0.022,0.024,0.026,0.028,0.032,0.034,0.036,0.038], "tickSize": -15, "labels": false, "title": null}},
            "y2": {"field": "hi"}
          }
        },
        {
          "transform": [{"filter": "datum.s === 'HMI'"}],
          "mark": {"type": "point", "shape": "circle", "filled": false, "color": "#88ffff", "strokeWidth": 3, "size": 196, "opacity": 1},
          "encoding": {
            "x": {"field": "d", "type": "quantitative", "scale": {"domain": [1994.47, 2019.84], "nice": false, "zero": false},
                  "axis": {"orient": "top", "values": [1995,2000,2005,2010,2015], "tickSize": -28, "labels": false, "title": null}},
            "y": {"field": "v", "type": "quantitative", "scale": {"domain": [-0.00185, 0.0401], "nice": false, "zero": false},
                  "axis": {"orient": "right", "values": [0,0.01,0.02,0.03,0.04], "tickSize": -29, "labels": false, "title": null}}
          }
        },
        {
          "transform": [{"filter": "datum.s === 'GONG'"}],
          "mark": {"type": "errorbar", "color": "#dd0000", "thickness": 3, "size": 16, "ticks": true},
          "encoding": {
            "x": {"field": "d", "type": "quantitative", "scale": {"domain": [1994.47, 2019.84], "nice": false, "zero": false}, "axis": null},
            "y": {"field": "lo", "type": "quantitative", "scale": {"domain": [-0.00185, 0.0401], "nice": false, "zero": false}, "axis": null},
            "y2": {"field": "hi"}
          }
        },
        {
          "transform": [{"filter": "datum.s === 'GONG'"}],
          "mark": {"type": "point", "shape": "square", "filled": true, "color": "#dd0000", "size": 121, "opacity": 1},
          "encoding": {
            "x": {"field": "d", "type": "quantitative", "scale": {"domain": [1994.47, 2019.84], "nice": false, "zero": false}, "axis": null},
            "y": {"field": "v", "type": "quantitative", "scale": {"domain": [-0.00185, 0.0401], "nice": false, "zero": false}, "axis": null}
          }
        }
      ]
    }
  ]
}
